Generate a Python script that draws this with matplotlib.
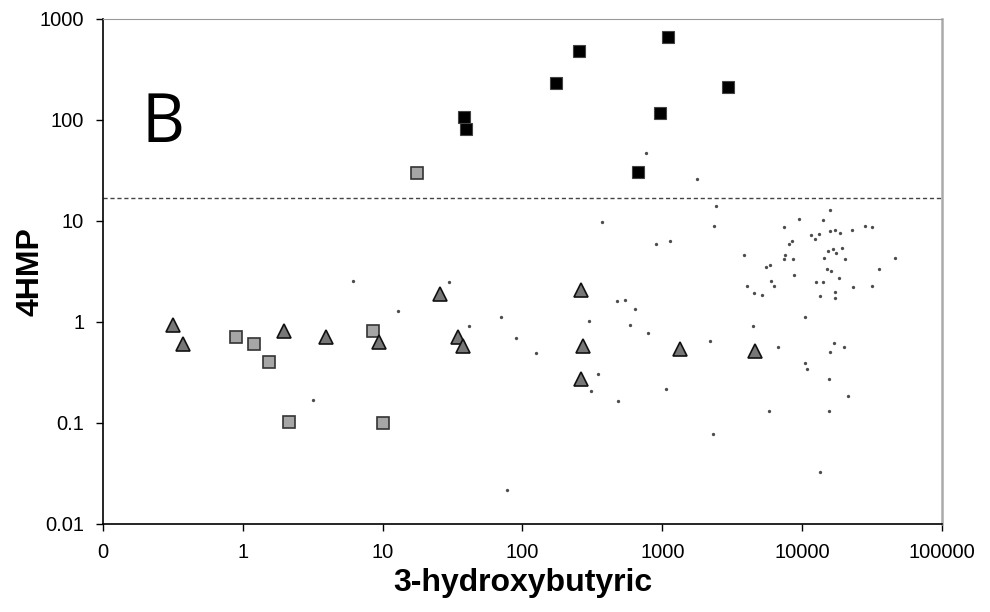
import matplotlib
matplotlib.use("Agg")
import matplotlib.pyplot as plt
from matplotlib.ticker import FixedLocator, NullLocator

plt.rcParams['font.family'] = ['Liberation Sans', 'DejaVu Sans']

# group above the cut-off (black squares)
high_x = [38.2, 39.3, 175, 255, 1107, 964, 671, 2958]
high_y = [107, 80.9, 231, 486, 668, 116, 30.3, 211]

# grey squares
grey_x = [17.6, 0.90, 1.20, 1.53, 8.49, 2.14, 10.1]
grey_y = [29.9, 0.71, 0.605, 0.405, 0.82, 0.102, 0.10]

# triangles
tri_x = [0.315, 0.373, 1.96, 3.94, 9.38, 25.9, 34.8, 37.8, 261, 270, 261, 1340, 4637]
tri_y = [0.93, 0.605, 0.815, 0.714, 0.634, 1.88, 0.706, 0.582, 2.07, 0.582, 0.273, 0.54, 0.52]

# background population (small dots)
dot_x = [766, 1766, 6.17, 3.18, 369, 903, 1143, 30.0, 12.9, 70.0,
         41.7, 89.6, 125, 473, 542, 639, 298, 589, 796, 346,
         308, 1070, 481, 77.2, 2414, 2336, 15850, 9570, 14060, 7470,
         28240, 31330, 11540, 13160, 12330, 15850, 17220, 18700, 22790, 8440,
         8110, 3865, 7600, 7470, 8580, 15280, 16590, 17510, 19320, 14290,
         20310, 46030, 5560, 5930, 35160, 15030, 16110, 8730, 18400, 6030,
         4045, 6280, 12530, 14060, 23170, 31840, 4560, 5200, 13460, 17220,
         17220, 10450, 4465, 2188, 6765, 16860, 15850, 19970, 10450, 10810,
         15600, 21330, 5840, 15600, 2296, 13390]
dot_y = [46.8, 26.3, 2.56, 0.169, 9.77, 5.92, 6.30, 2.51, 1.28, 1.12,
         0.912, 0.695, 0.497, 1.63, 1.66, 1.35, 1.02, 0.933, 0.773, 0.308,
         0.207, 0.217, 0.165, 0.0217, 14.2, 8.92, 12.9, 10.5, 10.2, 8.72,
         8.92, 8.72, 7.27, 7.43, 6.59, 7.96, 8.14, 7.61, 8.14, 6.34,
         5.88, 4.57, 4.57, 4.18, 4.18, 5.05, 5.25, 4.79, 5.37, 4.27,
         4.18, 4.27, 3.53, 3.69, 3.37, 3.32, 3.18, 2.94, 2.75, 2.56,
         2.29, 2.29, 2.51, 2.51, 2.24, 2.29, 1.95, 1.85, 1.82, 2.00,
         1.74, 1.12, 0.912, 0.644, 0.562, 0.615, 0.501, 0.562, 0.395, 0.339,
         0.275, 0.185, 0.131, 0.131, 0.0773, 0.0327]

cutoff = 17

x_ticks = [0.1, 1, 10, 100, 1000, 10000, 100000]
x_labels = ['0', '1', '10', '100', '1000', '10000', '100000']
y_ticks = [0.01, 0.1, 1, 10, 100, 1000]
y_labels = ['0.01', '0.1', '1', '10', '100', '1000']

fig = plt.figure(figsize=(9.9, 6.12), dpi=100)
ax = fig.add_axes([0.104, 0.1438, 0.8475, 0.8252])

ax.plot(dot_x, dot_y, 'o', ms=2.4, color='#4d4d4d', mec='none', zorder=2)
ax.plot(grey_x, grey_y, 's', ms=9.2, mfc='#a6a6a6', mec='#333333', mew=1.2, zorder=3)
ax.plot(tri_x, tri_y, '^', ms=9.5, mfc='#777777', mec='#111111', mew=1.2, zorder=4)
ax.plot(high_x, high_y, 's', ms=9.2, mfc='black', mec='#444444', mew=0.8, zorder=5)

ax.axhline(cutoff, color='#444444', lw=1, ls=(0, (3, 2)), zorder=1)

ax.set_xscale('log')
ax.set_yscale('log')
ax.set_xlim(0.1, 100000)
ax.set_ylim(0.01, 1000)

ax.xaxis.set_major_locator(FixedLocator(x_ticks))
ax.xaxis.set_minor_locator(NullLocator())
ax.set_xticklabels(x_labels)
ax.yaxis.set_major_locator(FixedLocator(y_ticks))
ax.yaxis.set_minor_locator(NullLocator())
ax.set_yticklabels(y_labels)

ax.tick_params(axis='both', direction='out', length=5, width=1, labelsize=14.5, color='black')
ax.tick_params(axis='x', pad=9)
ax.tick_params(axis='y', pad=8.5)

ax.spines['left'].set_color('black')
ax.spines['bottom'].set_color('black')
ax.spines['left'].set_linewidth(1.2)
ax.spines['bottom'].set_linewidth(1.2)
ax.spines['top'].set_color('#999999')
ax.spines['right'].set_color('#aaaaaa')
ax.spines['right'].set_linewidth(1.8)

ax.set_xlabel('3-hydroxybutyric', fontsize=23, fontweight='bold', labelpad=4)
ax.set_ylabel('4HMP', fontsize=23, fontweight='bold')
ax.yaxis.set_label_coords(-0.068, 0.5)

ax.text(0.046, 0.756, 'B', transform=ax.transAxes, fontsize=48,
        family=['Open Sans', 'DejaVu Sans'], ha='left', va='baseline')

plt.savefig('out.png', dpi=100)
